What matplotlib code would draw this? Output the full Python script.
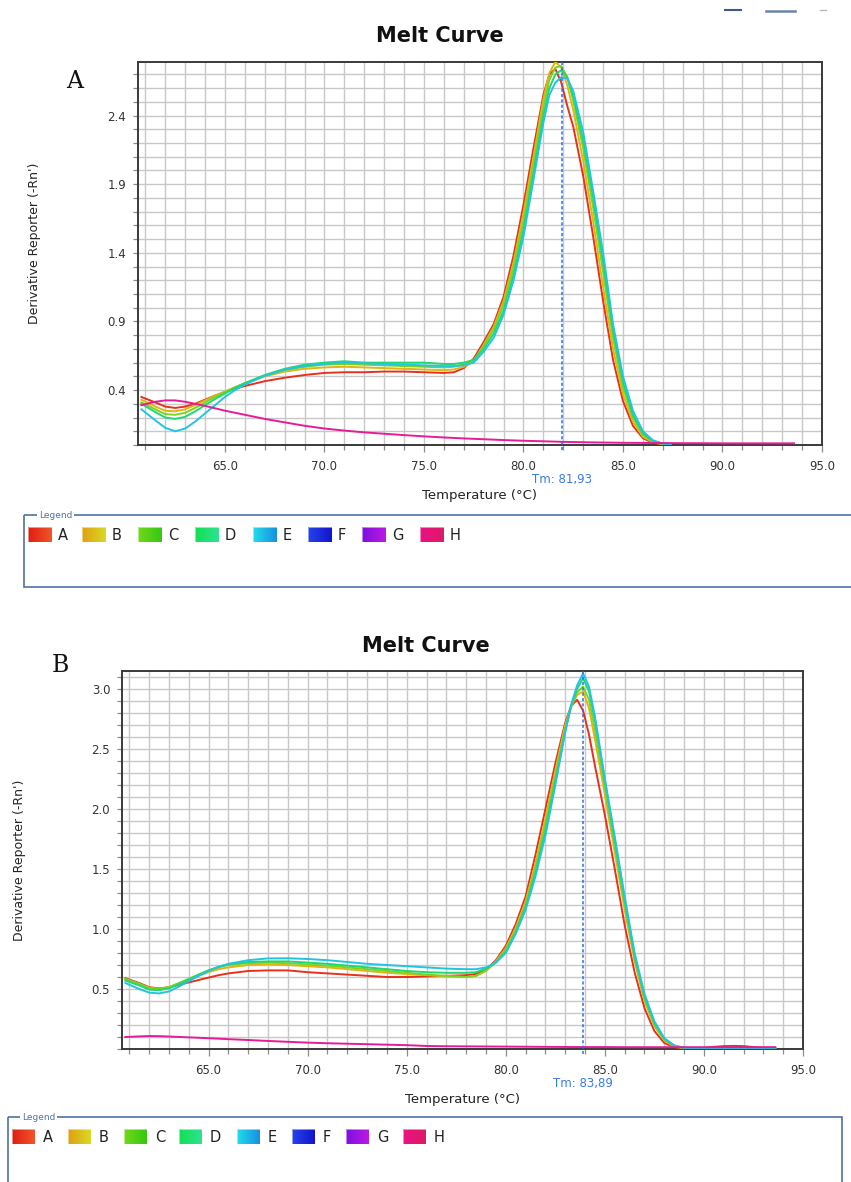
import numpy as np
import matplotlib
matplotlib.use("Agg")
import matplotlib.pyplot as plt
from matplotlib.ticker import MultipleLocator, FixedLocator
from matplotlib.patches import Rectangle
from matplotlib.colors import to_rgb

# ---------------- data ----------------
wells = ["A", "B", "C", "D", "E", "F", "G", "H"]

x_ticks = [65, 70, 75, 80, 85, 90, 95]
y_ticks_a = [0.4, 0.9, 1.4, 1.9, 2.4]
y_ticks_b = [0.5, 1.0, 1.5, 2.0, 2.5, 3.0]

tm_a = 81.93
tm_b = 83.89

# temperatures (°C) of the derivative readings, run A
temp_a = [60.8, 61.5, 62.0, 62.5, 63.0, 63.5, 64.0, 64.5, 65.0, 65.5, 66.0,
          67.0, 68.0, 69.0, 70.0, 71.0, 72.0, 73.0, 74.0, 75.0, 76.0, 76.5,
          77.0, 77.5, 78.0, 78.5, 79.0, 79.5, 80.0, 80.5, 81.0, 81.3, 81.6,
          81.9, 82.2, 82.5, 83.0, 83.5, 84.0, 84.5, 85.0, 85.5, 86.0, 86.5,
          87.0, 87.4]

run_a_A = [0.35, 0.31, 0.28, 0.27, 0.28, 0.30, 0.33, 0.36, 0.385, 0.41, 0.43,
           0.465, 0.49, 0.51, 0.525, 0.53, 0.53, 0.535, 0.535, 0.53, 0.525, 0.53,
           0.56, 0.63, 0.75, 0.88, 1.08, 1.38, 1.75, 2.16, 2.55, 2.70, 2.74,
           2.64, 2.47, 2.32, 1.96, 1.52, 1.05, 0.62, 0.32, 0.14, 0.05, 0.015,
           0.006, 0.004]
run_a_B = [0.33, 0.28, 0.25, 0.245, 0.26, 0.29, 0.325, 0.36, 0.39, 0.42, 0.45,
           0.50, 0.535, 0.555, 0.565, 0.57, 0.565, 0.56, 0.555, 0.55, 0.545, 0.55,
           0.57, 0.61, 0.73, 0.86, 1.05, 1.33, 1.69, 2.10, 2.52, 2.71, 2.79,
           2.75, 2.62, 2.44, 2.07, 1.63, 1.15, 0.70, 0.37, 0.17, 0.06, 0.02,
           0.006, 0.004]
run_a_C = [0.31, 0.26, 0.225, 0.22, 0.235, 0.27, 0.31, 0.35, 0.385, 0.42, 0.45,
           0.505, 0.545, 0.57, 0.585, 0.59, 0.585, 0.58, 0.575, 0.57, 0.565, 0.57,
           0.59, 0.62, 0.72, 0.84, 1.02, 1.29, 1.63, 2.04, 2.46, 2.66, 2.75,
           2.76, 2.68, 2.51, 2.16, 1.73, 1.26, 0.78, 0.42, 0.20, 0.075, 0.025,
           0.008, 0.004]
run_a_D = [0.30, 0.24, 0.20, 0.19, 0.205, 0.245, 0.29, 0.335, 0.375, 0.415, 0.45,
           0.51, 0.555, 0.585, 0.60, 0.61, 0.60, 0.60, 0.60, 0.60, 0.59, 0.59,
           0.60, 0.62, 0.70, 0.81, 0.98, 1.24, 1.57, 1.98, 2.40, 2.60, 2.70,
           2.73, 2.68, 2.54, 2.22, 1.80, 1.33, 0.84, 0.46, 0.22, 0.085, 0.03,
           0.01, 0.005]
run_a_E = [0.26, 0.18, 0.125, 0.10, 0.12, 0.17, 0.23, 0.29, 0.35, 0.40, 0.44,
           0.505, 0.55, 0.575, 0.59, 0.60, 0.595, 0.59, 0.585, 0.58, 0.575, 0.575,
           0.58, 0.60, 0.68, 0.78, 0.95, 1.20, 1.52, 1.93, 2.35, 2.55, 2.64,
           2.68, 2.67, 2.58, 2.28, 1.85, 1.40, 0.88, 0.50, 0.25, 0.10, 0.035,
           0.01, 0.005]

# temperatures (°C) of the derivative readings, run B
temp_b = [60.8, 61.5, 62.0, 62.5, 63.0, 63.5, 64.0, 64.5, 65.0, 65.5, 66.0,
          67.0, 68.0, 69.0, 70.0, 71.0, 72.0, 73.0, 74.0, 75.0, 76.0, 77.0,
          78.0, 78.5, 79.0, 79.5, 80.0, 80.5, 81.0, 81.5, 82.0, 82.5,
          83.0, 83.3, 83.6, 83.9, 84.2, 84.5, 85.0,
          85.5, 86.0, 86.5, 87.0, 87.5, 88.0, 88.5, 89.0, 89.5,
          90.0, 90.5, 91.0, 91.5, 92.0, 92.5, 93.0, 93.6]

run_b_A = [0.59, 0.55, 0.515, 0.505, 0.515, 0.535, 0.555, 0.575, 0.595, 0.615, 0.63,
           0.65, 0.655, 0.655, 0.64, 0.63, 0.62, 0.61, 0.60, 0.60, 0.605, 0.61,
           0.615, 0.625, 0.66, 0.74, 0.86, 1.04, 1.27, 1.62, 2.00, 2.38,
           2.72, 2.86, 2.91, 2.82, 2.62, 2.36, 1.95,
           1.50, 1.03, 0.64, 0.34, 0.15, 0.05, 0.015, 0.006, 0.004,
           0.008, 0.018, 0.024, 0.026, 0.024, 0.016, 0.010, 0.010]
run_b_B = [0.58, 0.54, 0.51, 0.50, 0.515, 0.545, 0.575, 0.61, 0.64, 0.665, 0.68,
           0.70, 0.705, 0.70, 0.69, 0.68, 0.665, 0.65, 0.635, 0.625, 0.615, 0.605,
           0.60, 0.61, 0.65, 0.73, 0.84, 1.01, 1.23, 1.55, 1.92, 2.32,
           2.70, 2.86, 2.95, 2.98, 2.84, 2.58, 2.12,
           1.64, 1.16, 0.73, 0.40, 0.19, 0.07, 0.02, 0.007, 0.004,
           0.004, 0.004, 0.004, 0.004, 0.004, 0.004, 0.004, 0.004]
run_b_C = [0.585, 0.545, 0.51, 0.50, 0.515, 0.55, 0.585, 0.62, 0.655, 0.68, 0.70,
           0.715, 0.72, 0.715, 0.705, 0.695, 0.68, 0.665, 0.65, 0.635, 0.62, 0.61,
           0.60, 0.61, 0.655, 0.72, 0.83, 0.99, 1.20, 1.51, 1.87, 2.27,
           2.66, 2.85, 2.97, 3.02, 2.91, 2.66, 2.18,
           1.69, 1.20, 0.76, 0.42, 0.20, 0.08, 0.025, 0.008, 0.004,
           0.004, 0.004, 0.004, 0.004, 0.004, 0.004, 0.004, 0.004]
run_b_D = [0.57, 0.53, 0.495, 0.49, 0.505, 0.54, 0.58, 0.62, 0.655, 0.685, 0.705,
           0.725, 0.73, 0.73, 0.72, 0.71, 0.695, 0.68, 0.665, 0.65, 0.64, 0.635,
           0.635, 0.64, 0.67, 0.72, 0.81, 0.97, 1.18, 1.47, 1.82, 2.23,
           2.65, 2.86, 3.00, 3.09, 2.98, 2.74, 2.24,
           1.74, 1.24, 0.78, 0.44, 0.22, 0.085, 0.028, 0.009, 0.005,
           0.004, 0.004, 0.004, 0.004, 0.004, 0.004, 0.004, 0.004]
run_b_E = [0.55, 0.50, 0.47, 0.463, 0.48, 0.52, 0.565, 0.61, 0.65, 0.685, 0.71,
           0.74, 0.755, 0.756, 0.75, 0.74, 0.725, 0.71, 0.70, 0.69, 0.68, 0.67,
           0.665, 0.665, 0.68, 0.72, 0.80, 0.96, 1.16, 1.44, 1.78, 2.20,
           2.64, 2.87, 3.03, 3.13, 3.02, 2.77, 2.25,
           1.77, 1.27, 0.80, 0.46, 0.23, 0.09, 0.03, 0.01, 0.005,
           0.004, 0.004, 0.004, 0.004, 0.004, 0.004, 0.004, 0.004]

# no-template well H, both runs
temp_h = [60.8, 61.5, 62.0, 62.5, 63.0, 64.0, 65.0, 66.0, 67.0, 68.0, 69.0, 70.0,
          71.0, 72.0, 73.0, 74.0, 75.0, 76.0, 77.0, 78.0, 79.0, 80.0, 81.0, 82.0,
          83.0, 84.0, 85.0, 86.0, 87.0, 88.0, 89.0, 90.0, 91.0, 92.0, 93.0, 93.6]
run_a_H = [0.29, 0.315, 0.325, 0.325, 0.315, 0.285, 0.25, 0.22, 0.19, 0.165, 0.14, 0.12,
           0.105, 0.092, 0.082, 0.072, 0.063, 0.055, 0.048, 0.042, 0.036, 0.031, 0.027, 0.023,
           0.020, 0.018, 0.016, 0.015, 0.014, 0.013, 0.013, 0.012, 0.012, 0.012, 0.012, 0.012]
run_b_H = [0.10, 0.105, 0.108, 0.107, 0.104, 0.097, 0.09, 0.082, 0.075, 0.067, 0.06, 0.053,
           0.048, 0.044, 0.04, 0.036, 0.032, 0.025, 0.023, 0.022, 0.021, 0.02, 0.019, 0.018,
           0.017, 0.016, 0.016, 0.015, 0.015, 0.015, 0.015, 0.015, 0.015, 0.015, 0.015, 0.015]

# ---------------- styling ----------------
line_colors = {"A": "#e8301c", "B": "#e2b512", "C": "#7dd322", "D": "#1fd872",
               "E": "#22c4e2", "H": "#e61c96"}
swatch_colors = {"A": ("#e01e12", "#f0552a"), "B": ("#e0a012", "#d8d824"),
                 "C": ("#72d81a", "#34c812"), "D": ("#12e052", "#2ee292"),
                 "E": ("#22dcea", "#1890e2"), "F": ("#2444ea", "#1414cc"),
                 "G": ("#7c10e0", "#bc1ae2"), "H": ("#ea1284", "#de1a66")}

W, H = 851, 1182
fig = plt.figure(figsize=(W / 100, H / 100), dpi=100)
fig.patch.set_facecolor("white")

# full-figure canvas in pixel units (y grows downwards)
canvas = fig.add_axes([0, 0, 1, 1])
canvas.axis("off")


def px_axes(left, top, right, bottom):
    return fig.add_axes([left / W, 1 - bottom / H, (right - left) / W, (bottom - top) / H])


def draw_panel(ax, temps, runs, h_vals, ylim, yticks, tm):
    ax.set_xlim(60.63, 95.0)
    ax.set_ylim(*ylim)
    ax.xaxis.set_major_locator(FixedLocator(x_ticks))
    ax.xaxis.set_minor_locator(MultipleLocator(1.0))
    ax.yaxis.set_major_locator(FixedLocator(yticks))
    ax.yaxis.set_minor_locator(MultipleLocator(0.1))
    ax.set_xticklabels([f"{t:.1f}" for t in x_ticks])
    ax.set_yticklabels([f"{t:.1f}" for t in yticks])
    ax.grid(True, which="both", color="#c8c8c8", lw=1.0)
    ax.set_axisbelow(True)
    ax.tick_params(which="both", direction="out", color="#8c8c8c", width=0.9,
                   labelsize=8.5, labelcolor="#333333")
    ax.tick_params(axis="x", which="major", length=5, pad=6)
    ax.tick_params(axis="x", which="minor", length=3.5)
    ax.tick_params(axis="y", which="both", length=3.5, pad=5)
    for sp in ax.spines.values():
        sp.set_color("#3a3a3a")
        sp.set_linewidth(1.4)

    for name, vals in runs:
        ax.plot(temps, vals, color=line_colors[name], lw=1.4,
                solid_joinstyle="round", zorder=3)
    ax.plot(temp_h, h_vals, color=line_colors["H"], lw=1.4, zorder=4)

    ax.axvline(tm, ymin=-0.014, ymax=1, color="#2c6fe0", lw=1.1,
               ls=(0, (2, 1.5)), clip_on=False, zorder=5)
    ax.annotate(f"Tm: {tm:.2f}".replace(".", ","), xy=(tm, 0),
                xycoords=("data", "axes fraction"), xytext=(0, -35 * 0.72),
                textcoords="offset points", ha="center", va="center",
                color="#3a7ae6", fontsize=8.5)
    ax.annotate("Temperature (°C)", xy=(0.5, 0), xycoords="axes fraction",
                xytext=(0, -50 * 0.72), textcoords="offset points",
                ha="center", va="center", color="#222222", fontsize=9.5)


ax_a = px_axes(138, 62, 822, 445)
draw_panel(ax_a, temp_a,
           [("A", run_a_A), ("B", run_a_B), ("C", run_a_C), ("D", run_a_D), ("E", run_a_E)],
           run_a_H, (0.0, 2.79), y_ticks_a, tm_a)

ax_b = px_axes(122, 671, 803, 1049)
draw_panel(ax_b, temp_b,
           [("A", run_b_A), ("B", run_b_B), ("C", run_b_C), ("D", run_b_D), ("E", run_b_E)],
           run_b_H, (0.0, 3.15), y_ticks_b, tm_b)

# titles, panel letters, axis titles
canvas.text(440, 36, "Melt Curve", fontsize=15, fontweight="bold",
            ha="center", va="center", color="#111111")
canvas.text(426, 646, "Melt Curve", fontsize=15, fontweight="bold",
            ha="center", va="center", color="#111111")
canvas.text(75, 82, "A", family="DejaVu Serif", fontsize=17,
            ha="center", va="center", color="#111111")
canvas.text(60, 665, "B", family="DejaVu Serif", fontsize=17,
            ha="center", va="center", color="#111111")
canvas.text(35, 243, "Derivative Reporter (-Rn')", rotation=90, fontsize=9,
            ha="center", va="center", color="#222222")
canvas.text(20, 860, "Derivative Reporter (-Rn')", rotation=90, fontsize=9,
            ha="center", va="center", color="#222222")

# window control glyphs along the top edge
canvas.plot([725, 741], [10, 10], color="#3d5a8a", lw=1.5)
canvas.plot([766, 795], [11, 11], color="#6a84a8", lw=1.8)
canvas.plot([820, 826], [10, 10], color="#b8b8b8", lw=1.0)


def draw_legend(box, title_x, sq_lefts, sq_top, sq_w, sq_h, text_gap):
    left, top, right, bottom = box
    canvas.add_patch(Rectangle((left, top), right - left, bottom - top, fill=False,
                               ec="#4f72a6", lw=1.2, zorder=2))
    canvas.text(title_x, top, "Legend", fontsize=6.5, color="#4f72a6",
                ha="left", va="center", zorder=3,
                bbox=dict(fc="white", ec="none", pad=1.2))
    ramp = np.linspace(0.0, 1.0, 32)
    for x0, name in zip(sq_lefts, wells):
        c0, c1 = (np.array(to_rgb(c)) for c in swatch_colors[name])
        img = ((1 - ramp)[:, None] * c0 + ramp[:, None] * c1)[None, :, :]
        canvas.imshow(img, extent=(x0, x0 + sq_w, sq_top + sq_h, sq_top),
                      aspect="auto", interpolation="bilinear", zorder=3)
        canvas.add_patch(Rectangle((x0, sq_top), sq_w, sq_h, fill=False,
                                   ec="white", lw=0.6, alpha=0.6, zorder=4))
        canvas.text(x0 + sq_w + text_gap, sq_top + sq_h / 2 + 0.5, name,
                    fontsize=10.5, color="#222222", ha="left", va="center")


draw_legend((24, 515, 880, 587), 39, [28, 82, 138, 195, 253, 308, 362, 420],
            527, 24, 15, 6)
draw_legend((8, 1117, 842, 1200), 22, [12, 68, 124, 179, 237, 292, 346, 403],
            1129, 23, 15, 8)

canvas.set_xlim(0, W)
canvas.set_ylim(H, 0)

fig.savefig("out.png", dpi=100, facecolor="white")
